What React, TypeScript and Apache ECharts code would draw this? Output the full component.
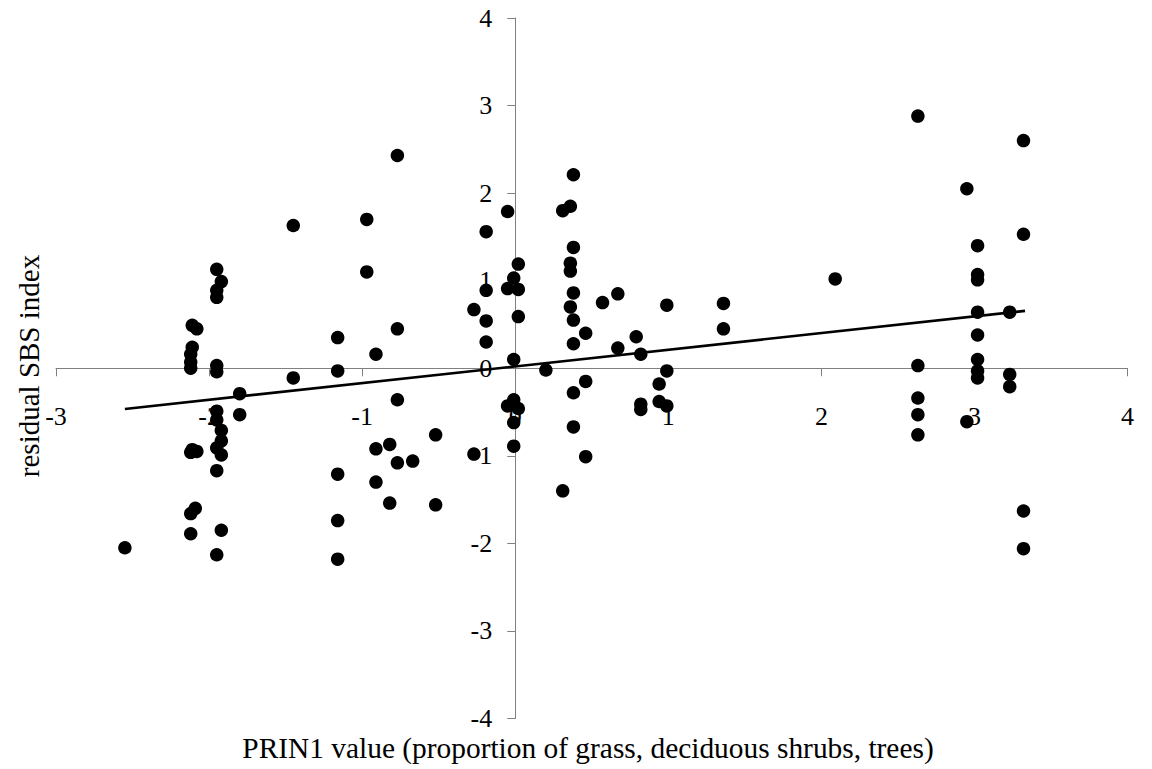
import React, { useEffect, useRef } from "react";
import * as echarts from "echarts";

// PRIN1 value (x) and residual SBS index (y)
const groupFarLeft: [number, number][] = [[-2.55, -2.05]];

const groupMinusTwo: [number, number][] = [
  [-2.11, 0.49], [-2.08, 0.45], [-2.11, 0.24], [-2.12, 0.16], [-2.12, 0.07], [-2.12, 0.0],
  [-2.11, -0.93], [-2.08, -0.95], [-2.12, -0.96], [-2.09, -1.6], [-2.12, -1.66], [-2.12, -1.89],
  [-1.95, 1.13], [-1.92, 0.99], [-1.95, 0.89], [-1.95, 0.81], [-1.95, 0.03], [-1.95, -0.04],
  [-1.95, -0.49], [-1.95, -0.59], [-1.92, -0.71], [-1.92, -0.83], [-1.95, -0.91], [-1.92, -0.99],
  [-1.95, -1.17], [-1.92, -1.85], [-1.95, -2.13],
  [-1.8, -0.29], [-1.8, -0.53],
];

const groupMinusOne: [number, number][] = [
  [-1.45, 1.63], [-1.45, -0.11],
  [-1.16, 0.35], [-1.16, -0.03], [-1.16, -1.21], [-1.16, -1.74], [-1.16, -2.18],
  [-0.97, 1.7], [-0.97, 1.1],
  [-0.91, 0.16], [-0.91, -0.92], [-0.91, -1.3],
  [-0.82, -0.87], [-0.82, -1.54],
  [-0.77, 2.43], [-0.77, 0.45], [-0.77, -0.36], [-0.77, -1.08],
  [-0.67, -1.06],
  [-0.52, -0.76], [-0.52, -1.56],
];

const groupZero: [number, number][] = [
  [-0.27, 0.67], [-0.27, -0.98],
  [-0.19, 1.56], [-0.19, 0.89], [-0.19, 0.54], [-0.19, 0.3],
  [-0.05, 1.79], [-0.05, 0.91], [-0.05, -0.43],
  [0.02, 1.19], [-0.01, 1.03], [0.02, 0.9], [0.02, 0.59], [-0.01, 0.1],
  [-0.01, -0.36], [0.02, -0.46], [-0.01, -0.62], [-0.01, -0.89],
  [0.2, -0.02],
  [0.31, 1.8], [0.31, -1.4],
  [0.38, 2.21], [0.36, 1.85], [0.38, 1.38], [0.36, 1.2], [0.36, 1.11], [0.38, 0.86],
  [0.36, 0.7], [0.38, 0.55], [0.38, 0.28], [0.38, -0.28], [0.38, -0.67],
  [0.46, 0.4], [0.46, -0.15], [0.46, -1.01],
  [0.57, 0.75],
  [0.67, 0.85], [0.67, 0.23],
  [0.79, 0.36], [0.82, 0.16], [0.82, -0.41], [0.82, -0.47],
  [0.99, 0.72], [0.99, -0.03], [0.94, -0.18], [0.94, -0.38], [0.99, -0.43],
  [1.36, 0.74], [1.36, 0.45],
];

const groupRight: [number, number][] = [
  [2.09, 1.02],
  [2.63, 2.88], [2.63, 0.03], [2.63, -0.34], [2.63, -0.53], [2.63, -0.76],
  [2.95, 2.05], [2.95, -0.61],
  [3.02, 1.4], [3.02, 1.07], [3.02, 1.01], [3.02, 0.64], [3.02, 0.38], [3.02, 0.1],
  [3.02, -0.03], [3.02, -0.11],
  [3.23, 0.64], [3.23, -0.07], [3.23, -0.21],
  [3.32, 2.6], [3.32, 1.53], [3.32, -1.63], [3.32, -2.06],
];

// linear trend line end points
const trendLine: [number, number][] = [[-2.55, -0.465], [3.33, 0.655]];

const xTicks = { min: -3, max: 4, interval: 1 };
const yTicks = { min: -4, max: 4, interval: 1 };

const xTitle = "PRIN1 value (proportion of grass, deciduous shrubs, trees)";
const yTitle = "residual SBS index";

const FONT = "'Liberation Serif', 'Times New Roman', serif";

const W = 1152;
const H = 769;
const GRID = { left: 56, right: 24.4, top: 18, bottom: 50.5 };

export default function App() {
  const ref = useRef<HTMLDivElement>(null);

  useEffect(() => {
    if (!ref.current) return;
    const chart = echarts.init(ref.current, null, { renderer: "svg" });
    const allPoints = [
      ...groupFarLeft,
      ...groupMinusTwo,
      ...groupMinusOne,
      ...groupZero,
      ...groupRight,
    ];
    const gridW = W - GRID.left - GRID.right;
    const gridH = H - GRID.top - GRID.bottom;
    // axes cross at zero: shift each axis from the grid edge to the zero of the other axis
    const xAxisOffset = -((0 - yTicks.min) / (yTicks.max - yTicks.min)) * gridH;
    const yAxisOffset = -((0 - xTicks.min) / (xTicks.max - xTicks.min)) * gridW;

    const labelStyle = {
      color: "#000",
      fontFamily: FONT,
      fontSize: 26,
      fontWeight: "normal" as const,
    };

    chart.setOption({
      animation: false,
      backgroundColor: "#ffffff",
      textStyle: { fontFamily: FONT, color: "#000" },
      grid: { ...GRID, containLabel: false },
      xAxis: {
        type: "value",
        min: xTicks.min,
        max: xTicks.max,
        interval: xTicks.interval,
        position: "bottom",
        offset: xAxisOffset,
        axisLine: { show: true, onZero: false, lineStyle: { color: "#808080", width: 1 } },
        axisTick: { show: true, length: 8, lineStyle: { color: "#808080", width: 1 } },
        axisLabel: { ...labelStyle, margin: 35 },
        splitLine: { show: false },
      },
      yAxis: {
        type: "value",
        min: yTicks.min,
        max: yTicks.max,
        interval: yTicks.interval,
        position: "left",
        offset: yAxisOffset,
        axisLine: { show: true, onZero: false, lineStyle: { color: "#808080", width: 1 } },
        axisTick: { show: true, length: 8, lineStyle: { color: "#808080", width: 1 } },
        axisLabel: { ...labelStyle, margin: 23 },
        splitLine: { show: false },
      },
      graphic: [
        {
          type: "text",
          x: 588,
          y: 748,
          style: {
            text: xTitle,
            fill: "#000",
            fontFamily: FONT,
            fontSize: 29.4,
            align: "center",
            verticalAlign: "middle",
            textAlign: "center",
            textVerticalAlign: "middle",
          },
        },
        {
          type: "text",
          x: 29,
          y: 366,
          rotation: Math.PI / 2,
          style: {
            text: yTitle,
            fill: "#000",
            fontFamily: FONT,
            fontSize: 29,
            align: "center",
            verticalAlign: "middle",
            textAlign: "center",
            textVerticalAlign: "middle",
          },
        },
      ],
      series: [
        {
          type: "line",
          data: trendLine,
          symbol: "none",
          lineStyle: { color: "#000", width: 2.6 },
          z: 2,
        },
        {
          type: "scatter",
          data: allPoints,
          symbol: "circle",
          symbolSize: 13.5,
          itemStyle: { color: "#000", opacity: 1 },
          z: 3,
        },
      ],
    });
    return () => chart.dispose();
  }, []);

  return (
    <div
      ref={ref}
      style={{ position: "absolute", left: 0, top: 0, width: W, height: H, background: "#fff" }}
    />
  );
}
